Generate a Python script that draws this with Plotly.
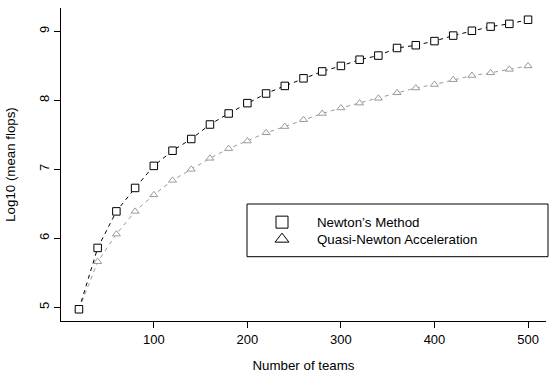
import plotly.graph_objects as go

teams = [20, 40, 60, 80, 100, 120, 140, 160, 180, 200, 220, 240, 260,
         280, 300, 320, 340, 360, 380, 400, 420, 440, 460, 480, 500]
newton = [4.97, 5.86, 6.39, 6.73, 7.05, 7.27, 7.44, 7.65, 7.81, 7.96, 8.10, 8.21, 8.32,
          8.42, 8.50, 8.59, 8.65, 8.76, 8.80, 8.86, 8.94, 9.01, 9.07, 9.11, 9.17]
quasi = [4.97, 5.66, 6.06, 6.39, 6.63, 6.84, 7.00, 7.16, 7.30, 7.41, 7.53, 7.62, 7.72,
         7.81, 7.89, 7.96, 8.03, 8.11, 8.18, 8.23, 8.30, 8.36, 8.40, 8.45, 8.50]
series_names = ["Newton\u2019s Method", "Quasi-Newton Acceleration"]
x_ticks = [100, 200, 300, 400, 500]
y_ticks = [5, 6, 7, 8, 9]

FONT = "Liberation Sans, Arial, Helvetica, sans-serif"
GRAY = "#9a9a9a"
FS = 13.3

fig = go.Figure()
fig.add_trace(go.Scatter(
    x=teams, y=quasi, mode="lines+markers", showlegend=False,
    line=dict(color=GRAY, width=1, dash="4px,4px"),
    marker=dict(symbol="triangle-up", size=7, color="white",
                line=dict(color=GRAY, width=1)),
))
fig.add_trace(go.Scatter(
    x=teams, y=newton, mode="lines+markers", showlegend=False,
    line=dict(color="black", width=1, dash="4px,4px"),
    marker=dict(symbol="square", size=7.5, color="white",
                line=dict(color="black", width=1)),
))
# legend entries (one legend per row for exact placement)
fig.add_trace(go.Scatter(
    x=[None], y=[None], mode="markers", name=series_names[0], legend="legend",
    marker=dict(symbol="square-open", size=12, color="black", line=dict(width=1)),
))
fig.add_trace(go.Scatter(
    x=[None], y=[None], mode="markers", name=series_names[1], legend="legend2",
    marker=dict(symbol="triangle-up-open", size=12, color="black", line=dict(width=1)),
))

L, R, T, B = 61, 5, 8, 52
W, H = 551, 373
pw, ph = W - L - R, H - T - B

def px_x(p):
    return (p - L) / pw

def px_y(p):
    return (H - B - p) / ph

fig.add_shape(type="rect", xref="paper", yref="paper",
              x0=px_x(247), x1=px_x(548), y0=px_y(256.7), y1=px_y(204),
              line=dict(color="black", width=1), fillcolor="rgba(0,0,0,0)")

leg_common = dict(xanchor="left", yanchor="middle", bgcolor="rgba(0,0,0,0)",
                  borderwidth=0, font=dict(family=FONT, size=FS), itemwidth=60)

fig.update_layout(
    width=W, height=H,
    margin=dict(l=L, r=R, t=T, b=B, autoexpand=False),
    paper_bgcolor="white", plot_bgcolor="white",
    font=dict(family=FONT, size=FS, color="black"),
    legend=dict(x=px_x(247), y=px_y(222.5), **leg_common),
    legend2=dict(x=px_x(247), y=px_y(239.5), **leg_common),
    xaxis=dict(range=[0.8, 519.2], tickvals=x_ticks, ticks="outside", ticklen=6,
               tickcolor="black", showline=True, linecolor="black", linewidth=1,
               showgrid=False, zeroline=False, tickfont=dict(size=13), automargin=False,
               title=dict(text="Number of teams", font=dict(size=FS), standoff=20)),
    yaxis=dict(range=[4.80, 9.34], tickvals=y_ticks, ticks="outside", ticklen=6,
               tickcolor="black", showline=True, linecolor="black", linewidth=1,
               showgrid=False, zeroline=False, tickangle=-90, tickfont=dict(size=13),
               automargin=False,
               title=dict(text="Log10 (mean flops)", font=dict(size=FS), standoff=18)),
)

fig.write_html("out.html")
